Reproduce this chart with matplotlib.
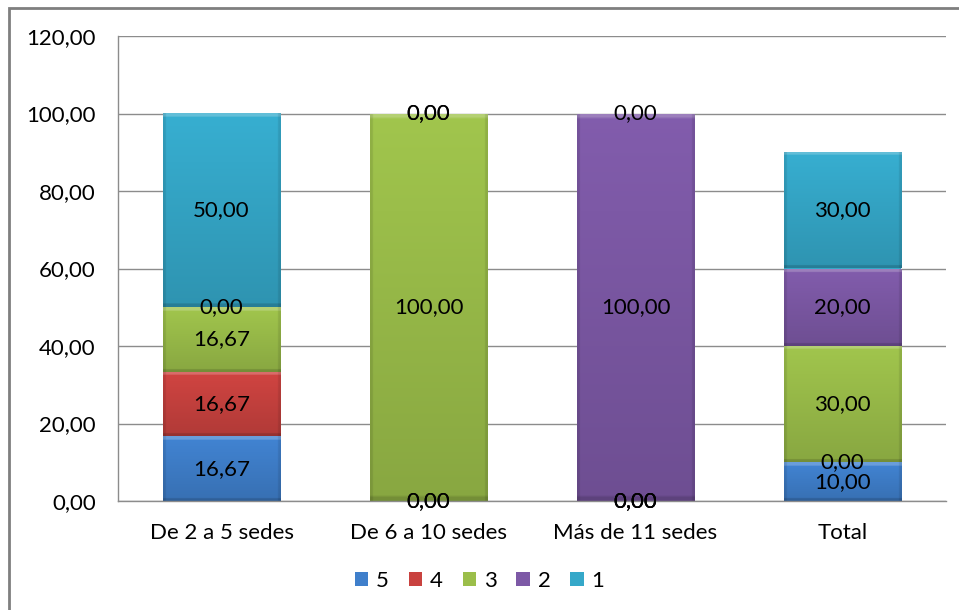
import numpy as np
import matplotlib
matplotlib.use("Agg")
import matplotlib.pyplot as plt
from matplotlib.patches import Patch, Rectangle
from matplotlib.colors import to_rgb

plt.rcParams['font.family'] = ['Lato', 'DejaVu Sans']

categories = ["De 2 a 5 sedes", "De 6 a 10 sedes", "Más de 11 sedes", "Total"]
series_names = ["5", "4", "3", "2", "1"]
s5 = [16.67, 0.00, 0.00, 10.00]
s4 = [16.67, 0.00, 0.00, 0.00]
s3 = [16.67, 100.00, 0.00, 30.00]
s2 = [0.00, 0.00, 100.00, 20.00]
s1 = [50.00, 0.00, 0.00, 30.00]
series_values = [s5, s4, s3, s2, s1]
colors = ["#3F7FCB", "#C9423F", "#9BBE4A", "#7D59A6", "#35A8C9"]
yticks = [0, 20, 40, 60, 80, 100, 120]

FS = 16
W, H = 959, 610
fig = plt.figure(figsize=(W / 100, H / 100), dpi=100)
ax = fig.add_axes([118 / W, 1 - 501 / H, (946 - 118) / W, (501 - 36) / H])

x = np.arange(len(categories))
width = 0.57
ax.set_xlim(-0.5, len(categories) - 0.5)
ax.set_ylim(0, 120)

bottoms = np.zeros(len(categories))
for name, vals, col in zip(series_names, series_values, colors):
    vals = np.array(vals)
    bars = ax.bar(x, vals, width, bottom=bottoms, color=col, edgecolor='none', zorder=2)
    for xi, b, v, patch in zip(x, bottoms, vals, bars):
        if v > 0:
            ny, nx = 160, 80
            yy = np.linspace(1, 0, ny)[:, None]  # 1 at top
            xx = np.linspace(0, 1, nx)[None, :]
            base = np.array(to_rgb(col))
            fac = 0.88 + 0.16 * yy + 0 * xx
            img = base[None, None, :] * fac[..., None]
            bev = min(0.3, 0.9 / v)
            top = np.broadcast_to((1 - yy) < bev, (ny, nx))
            hl = np.clip(base * 0.8 + 0.22, 0, 1)
            img = np.where(top[..., None], hl[None, None, :], img)
            edge = np.broadcast_to((xx < 0.025) | (xx > 0.975), (ny, nx))
            img = np.where(edge[..., None], img * 0.9, img)
            bot = np.broadcast_to(yy < min(0.2, 0.7 / v), (ny, nx))
            img = np.where(bot[..., None], img * 0.85, img)
            img = np.clip(img, 0, 1)
            im = ax.imshow(img, extent=[xi - width / 2, xi + width / 2, b, b + v],
                           aspect='auto', zorder=2.5, interpolation='bilinear')
            im.set_clip_path(patch)
        ax.text(xi, b + v / 2, f"{v:.2f}".replace('.', ','), ha='center', va='center',
                fontsize=FS, color='black', zorder=5)
    bottoms = bottoms + vals

ax.set_xlim(-0.5, len(categories) - 0.5)
ax.set_ylim(0, 120)
ax.set_yticks(yticks)
ax.set_yticklabels([f"{t:.2f}".replace('.', ',') for t in yticks], fontsize=FS)
ax.set_xticks(x)
ax.set_xticklabels(categories, fontsize=FS)
ax.tick_params(axis='y', length=0, pad=16)
ax.tick_params(axis='x', length=0, pad=16)
ax.yaxis.grid(True, color='#8c8c8c', linewidth=1)
ax.set_axisbelow(True)
for s in ['top', 'right']:
    ax.spines[s].set_visible(False)
for s in ['left', 'bottom']:
    ax.spines[s].set_color('#8c8c8c')
    ax.spines[s].set_linewidth(1)

handles = [Patch(facecolor=c, edgecolor='none') for c in colors]
fig.legend(handles, series_names, loc='center', bbox_to_anchor=(0.5, 1 - 581 / H),
           ncol=5, frameon=False, fontsize=FS, handlelength=0.6, handleheight=0.6,
           handletextpad=0.35, columnspacing=0.9)

fig.add_artist(Rectangle((9 / W, -0.1), 1.2, 1 - 8 / H + 0.1, transform=fig.transFigure,
                         fill=False, edgecolor='#7f7f7f', linewidth=2))

fig.savefig("out.png", dpi=100)
